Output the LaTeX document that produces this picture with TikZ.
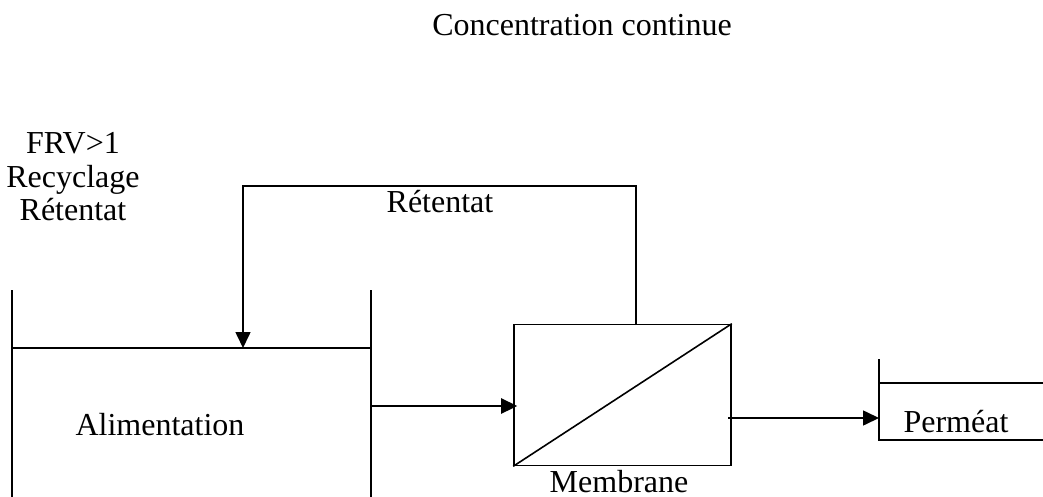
\documentclass[tikz,border=0pt]{standalone}
\usepackage{fontspec}
\setmainfont{Liberation Serif}
\usetikzlibrary{arrows.meta}
\begin{document}
\begin{tikzpicture}[x=1pt,y=-1pt,
  wall/.style={line width=1.6pt},
  flow/.style={line width=1.6pt,-{Triangle[length=16pt,width=15pt]}},
  lbl/.style={font=\fontsize{32}{33}\selectfont,inner sep=0pt,anchor=base}]
\useasboundingbox (0,0) rectangle (1043,497);

% title
\node[lbl] (title) at (582,36) {Concentration continue};

% side note
\node[lbl] (frv) at (73,154) {FRV>1};
\node[lbl] (recy) at (73,187) {Recyclage};
\node[lbl] (reten) at (73,220) {Rétentat};

% feed tank
\coordinate (ftl) at (12,290);
\coordinate (fbl) at (12,497);
\coordinate (ftr) at (371,290);
\coordinate (fbr) at (371,497);
\coordinate (lvlL) at (12,348);
\coordinate (lvlR) at (371,348);
\draw[wall] (ftl) -- (fbl);
\draw[wall] (ftr) -- (fbr);
\draw[wall] (lvlL) -- (lvlR);
\node[lbl] (alim) at (160,435) {Alimentation};

% membrane module
\node[draw,line width=1.6pt,minimum width=217pt,minimum height=141pt,inner sep=0pt] (mem) at (622.5,395) {};
\draw[wall] (mem.south west) -- (mem.north east);
\node[lbl] (memlbl) at (619,492) {Membrane};

% feed line
\coordinate (feed) at (371,406);
\draw[flow,line width=2.6pt] (feed) -- ([xshift=4pt]feed -| mem.west);

% retentate recycle loop
\coordinate (rout) at (636,325);
\coordinate (rin) at (243,348);
\draw[flow] (rout) |- (243,186) -- (rin);
\node[lbl] (retlbl) at (440,212) {Rétentat};

% permeate tank
\coordinate (pout) at (728,418);
\coordinate (ptl) at (879,359);
\coordinate (pbl) at (879,440);
\draw[flow] (pout) -- (pout -| ptl);
\draw[wall] (ptl) -- (pbl) -- (1043,440);
\draw[wall] (879,383) -- (1043,383);
\node[lbl] (perm) at (956,432) {Perméat};
\end{tikzpicture}
\end{document}
